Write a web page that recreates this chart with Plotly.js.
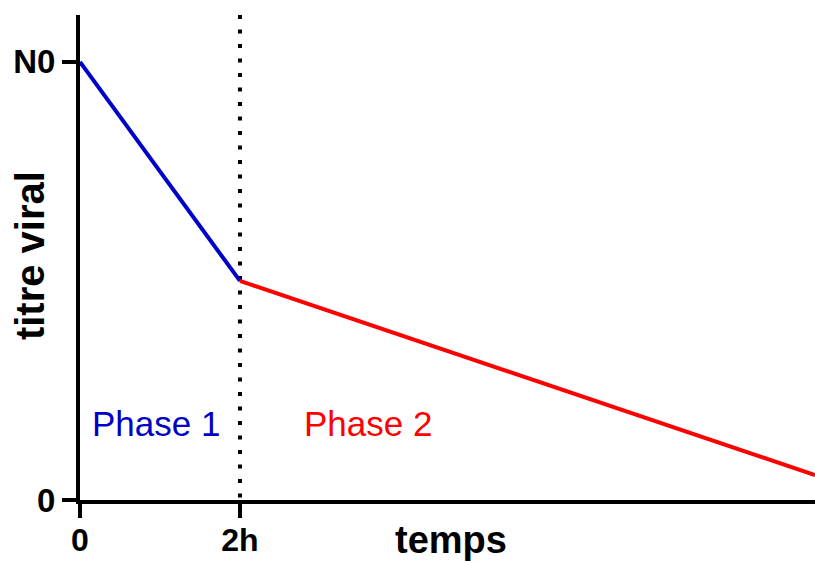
<!DOCTYPE html>
<html>
<head>
<meta charset="utf-8">
<script src="https://cdn.plot.ly/plotly-3.0.1.min.js"></script>
<style>html,body{margin:0;padding:0;background:#fff;}#chart{width:815px;height:563px;}</style>
</head>
<body>
<div id="chart"></div>
<script>
// Data (time in hours, titre as % of N0)
const phase1X = [0, 2];
const phase1Y = [100, 50];
const phase2X = [2, 9.19];
const phase2Y = [50, 5.7];
const boundaryX = [2, 2];
const boundaryY = [110.7, 0];
const xTickVals = [0, 2];
const xTickText = ['0', '2h'];
const yTickVals = [0, 100];
const yTickText = ['0', 'N0'];
const xMax = 9.19;
const yMax = 110.7;

const font = 'Liberation Sans, Arial, sans-serif';

const traces = [
  {x: boundaryX, y: boundaryY, mode: 'lines', line: {color: '#000', width: 4, dash: '4px,10.5px'}, hoverinfo: 'skip', showlegend: false},
  {x: phase1X, y: phase1Y, mode: 'lines', line: {color: '#0000C8', width: 4}, showlegend: false},
  {x: phase2X, y: phase2Y, mode: 'lines', line: {color: '#FF0000', width: 4}, showlegend: false}
];

const layout = {
  width: 815, height: 563,
  margin: {l: 80, r: 0, t: 15, b: 63},
  paper_bgcolor: '#fff', plot_bgcolor: '#fff',
  showlegend: false,
  xaxis: {
    range: [0, xMax], showgrid: false, zeroline: false,
    showline: true, linecolor: '#000', linewidth: 4,
    ticks: 'outside', ticklen: 14, tickwidth: 4, tickcolor: '#000',
    tickvals: xTickVals, ticktext: xTickText, ticklabelstandoff: -5,
    tickfont: {family: font, size: 32, color: '#000', weight: 'bold'}
  },
  yaxis: {
    range: [0, yMax], showgrid: false, zeroline: false,
    showline: true, linecolor: '#000', linewidth: 4,
    ticks: 'outside', ticklen: 14, tickwidth: 4, tickcolor: '#000',
    tickvals: yTickVals, ticktext: yTickText,
    tickfont: {family: font, size: 33, color: '#000', weight: 'bold'}
  },
  annotations: [
    {text: 'temps', xref: 'paper', yref: 'paper', x: 0.505, y: -0.082, xanchor: 'center', yanchor: 'middle', showarrow: false,
     font: {family: font, size: 38, color: '#000', weight: 'bold'}},
    {text: 'titre viral', xref: 'paper', yref: 'paper', x: -0.068, y: 0.503, xanchor: 'center', yanchor: 'middle', textangle: -90, showarrow: false,
     font: {family: font, size: 40, color: '#000', weight: 'bold'}},
    {text: 'Phase 1', xref: 'x', yref: 'y', x: 0.13, y: 17.5, xanchor: 'left', yanchor: 'middle', showarrow: false,
     font: {family: font, size: 35, color: '#0000C8'}},
    {text: 'Phase 2', xref: 'x', yref: 'y', x: 2.77, y: 17.5, xanchor: 'left', yanchor: 'middle', showarrow: false,
     font: {family: font, size: 35, color: '#FF0000'}}
  ]
};

Plotly.newPlot('chart', traces, layout, {displayModeBar: false, staticPlot: true});
</script>
</body>
</html>
